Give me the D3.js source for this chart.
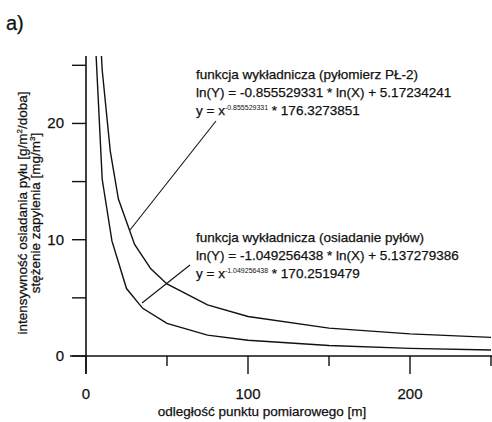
<!DOCTYPE html>
<html><head><meta charset="utf-8">
<script src="https://cdn.jsdelivr.net/npm/d3@7"></script>
<style>body{margin:0;background:#fff}text{font-family:"Liberation Sans",Arial,sans-serif;fill:#111;stroke:#111;stroke-width:0.25}</style>
</head><body>
<script>
// values
var upperX = [8, 10, 15, 20, 30, 40, 50, 75, 100, 150, 200, 250];
var upperY = [29.7, 24.6, 17.6, 13.5, 9.6, 7.5, 6.2, 4.4, 3.4, 2.4, 1.9, 1.6];
var lowerX = [6, 10, 16, 25, 35, 50, 75, 100, 150, 200, 250];
var lowerY = [26.5, 15.2, 9.9, 5.8, 4.1, 2.8, 1.8, 1.35, 0.9, 0.66, 0.52];
var xTicks = [0, 50, 100, 150, 200, 250];
var xLabels = [0, 100, 200];
var yTicks = [0, 5, 10, 15, 20, 25];
var yLabels = [0, 10, 20];

var svg = d3.select("body").append("svg").attr("width", 492).attr("height", 422);

var x = d3.scaleLinear().domain([0, 250]).range([86, 491]);
var y = d3.scaleLinear().domain([0, 25.8]).range([356, 56]);

svg.append("text").attr("x", 6).attr("y", 30).style("font-size", "20px").text("a)");

// clip curves to plot
svg.append("clipPath").attr("id", "c").append("rect")
    .attr("x", 86).attr("y", 56).attr("width", 406).attr("height", 300);

var line = d3.line().x(function(d){ return x(d[0]) }).y(function(d){ return y(d[1]) });
[[upperX, upperY], [lowerX, lowerY]].forEach(function(s){
    svg.append("path")
        .attr("d", line(d3.zip(s[0], s[1])))
        .attr("clip-path", "url(#c)")
        .attr("fill", "none").attr("stroke", "#111").attr("stroke-width", 1.4);
});

// axes
svg.append("line").attr("x1", 86).attr("x2", 86).attr("y1", 56).attr("y2", 374).attr("stroke", "#111").attr("stroke-width", 1.6);
svg.append("line").attr("x1", 70).attr("x2", 492).attr("y1", 356).attr("y2", 356).attr("stroke", "#111").attr("stroke-width", 1.6);

svg.selectAll(".yt").data(yTicks).enter().append("line")
    .attr("x1", 72).attr("x2", 86)
    .attr("y1", function(d){ return y(d) }).attr("y2", function(d){ return y(d) })
    .attr("stroke", "#111").attr("stroke-width", 1.4);
svg.selectAll(".yl").data(yLabels).enter().append("text")
    .attr("x", 64).attr("y", function(d){ return y(d) + 5 })
    .attr("text-anchor", "end").style("font-size", "15px").text(function(d){ return d });

svg.selectAll(".xt").data(xTicks).enter().append("line")
    .attr("x1", function(d){ return x(d) }).attr("x2", function(d){ return x(d) })
    .attr("y1", 356).attr("y2", function(d){ return d % 100 == 0 ? 374 : 366 })
    .attr("stroke", "#111").attr("stroke-width", 1.4);
svg.selectAll(".xl").data(xLabels).enter().append("text")
    .attr("x", function(d){ return x(d) }).attr("y", 399)
    .attr("text-anchor", "middle").style("font-size", "15px").text(function(d){ return d });

svg.append("text").attr("x", 262).attr("y", 416).attr("text-anchor", "middle")
    .style("font-size", "13.5px").text("odległość  punktu pomiarowego [m]");

var yl = svg.append("text").attr("transform", "translate(27,213) rotate(-90)")
    .attr("text-anchor", "middle").style("font-size", "13.5px");
yl.append("tspan").attr("x", 0).attr("dy", 0).text("intensywność  osiadania pyłu [g/m");
yl.append("tspan").attr("dy", -5).style("font-size", "8px").text("2");
yl.append("tspan").attr("dy", 5).text("/doba]");
var yl2 = svg.append("text").attr("transform", "translate(40,213) rotate(-90)")
    .attr("text-anchor", "middle").style("font-size", "13.5px");
yl2.append("tspan").text("stężenie zapylenia [mg/m");
yl2.append("tspan").attr("dy", -5).style("font-size", "8px").text("3");
yl2.append("tspan").attr("dy", 5).text("]");

// annotations
function block(x0, y0, title, eq, exp, coef){
    svg.append("text").attr("x", x0).attr("y", y0).style("font-size", "13.5px").text(title);
    svg.append("text").attr("x", x0).attr("y", y0 + 18).style("font-size", "13.5px").text(eq);
    var t = svg.append("text").attr("x", x0).attr("y", y0 + 36).style("font-size", "13.5px");
    t.append("tspan").text("y = x");
    t.append("tspan").attr("dy", -5).style("font-size", "7px").style("stroke-width", 0).text(exp);
    t.append("tspan").attr("dy", 5).text(" * " + coef);
}
block(196, 79, "funkcja wykładnicza (pyłomierz PŁ-2)", "ln(Y) = -0.855529331 * ln(X) + 5.17234241", "-0.855529331", "176.3273851");
block(196, 242, "funkcja wykładnicza (osiadanie pyłów)", " ln(Y) = -1.049256438 * ln(X) + 5.137279386", "-1.049256438", "170.2519479");

svg.append("line").attr("x1", 216).attr("y1", 121).attr("x2", 130).attr("y2", 230).attr("stroke", "#111").attr("stroke-width", 1.1);
svg.append("line").attr("x1", 190).attr("y1", 265).attr("x2", 142).attr("y2", 303).attr("stroke", "#111").attr("stroke-width", 1.1);
</script>
</body></html>
